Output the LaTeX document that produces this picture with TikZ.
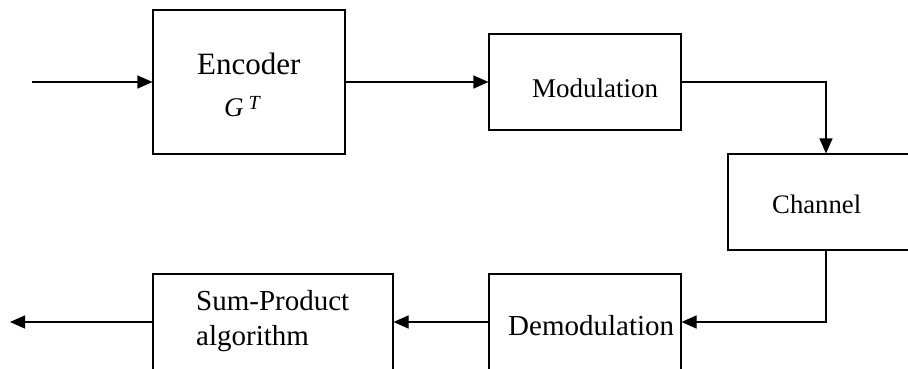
\documentclass[tikz,border=0pt]{standalone}
\usepackage{fontspec}
\setmainfont{Liberation Serif}
\usetikzlibrary{arrows.meta}
\tikzset{
  blockbox/.style={draw=black, line width=1.1pt, fill=white, inner sep=0pt},
  flow/.style={line width=1.1pt, -{Triangle[length=15pt,width=13pt]}},
  wire/.style={line width=1.1pt},
  lbl/.style={inner sep=0pt, anchor=base west}
}
\begin{document}
\begin{tikzpicture}[x=1pt, y=-1pt]
  \useasboundingbox (0,0) rectangle (908,368);
  \clip (0,0) rectangle (908,368);
  \fill[white] (0,0) rectangle (908,368);

  % blocks
  \node[blockbox, minimum width=192pt, minimum height=144pt] (enc)  at (249,82)  {};
  \node[blockbox, minimum width=192pt, minimum height=96pt]  (mod)  at (585,82)  {};
  \node[blockbox, minimum width=196pt, minimum height=96pt]  (chan) at (826,202) {};
  \node[blockbox, minimum width=192pt, minimum height=96pt]  (dem)  at (585,322) {};
  \node[blockbox, minimum width=240pt, minimum height=96pt]  (sp)   at (273,322) {};

  % block texts
  \node[lbl] (encT) at (197,74.7) {\fontsize{31}{31}\selectfont Encoder};
  \node[lbl] (encG) at (224,116) {\fontsize{27}{27}\selectfont\itshape G\hspace{5pt}\raisebox{7pt}{\fontsize{20}{20}\selectfont T}};
  \node[lbl] (modT) at (532,97) {\fontsize{27}{27}\selectfont Modulation};
  \node[lbl] (chanT) at (772,213) {\fontsize{26.7}{26.7}\selectfont Channel};
  \node[lbl] (demT) at (508,335) {\fontsize{29}{29}\selectfont Demodulation};
  \node[lbl] (spT1) at (196,310) {\fontsize{29}{29}\selectfont Sum-Product};
  \node[lbl] (spT2) at (196,345) {\fontsize{29}{29}\selectfont algorithm};

  % free ends
  \coordinate (src) at (32,82);
  \coordinate (sink) at (10,322);

  % connectors
  \draw[flow] (src) -- (enc.west);
  \draw[flow] (enc.east) -- (mod.west);
  \draw[flow] (mod.east) -| (chan.north);
  \draw[flow] (chan.south) |- (dem.east);
  \draw[flow] (dem.west) -- (sp.east);
  \draw[flow] (sp.west) -- (sink);
\end{tikzpicture}
\end{document}
